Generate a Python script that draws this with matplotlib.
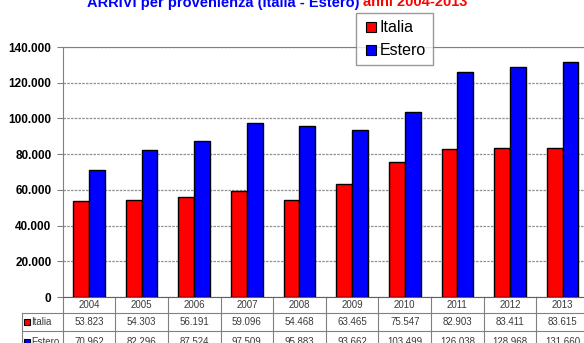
import matplotlib
matplotlib.use("Agg")
import matplotlib.pyplot as plt
from matplotlib.lines import Line2D
from matplotlib.patches import Rectangle
from matplotlib.ticker import FuncFormatter

plt.rcParams['font.family'] = ['Liberation Sans', 'DejaVu Sans']

# ---------------------------- Data ------------------------------------
years = ['2004', '2005', '2006', '2007', '2008', '2009', '2010', '2011', '2012', '2013']
italia = [53823, 54303, 56191, 59096, 54468, 63465, 75547, 82903, 83411, 83615]
estero = [70962, 82296, 87524, 97509, 95883, 93662, 103499, 126038, 128968, 131660]
series_names = ['Italia', 'Estero']
colors = ['#ff0000', '#0000ff']


def thousands(v, pos=None):
    return '{:,.0f}'.format(v).replace(',', '.')


# ---------------------------- Figure ----------------------------------
W, H = 584, 343
fig = plt.figure(figsize=(W / 100, H / 100), dpi=100)
ax_l, ax_r, ax_t, ax_b = 62.6, 589.0, 47.0, 297.0
ax = fig.add_axes([ax_l / W, 1 - ax_b / H, (ax_r - ax_l) / W, (ax_b - ax_t) / H])

x = list(range(len(years)))
bw = 0.3
ax.bar([i - bw / 2 for i in x], italia, bw, color=colors[0], edgecolor='black',
       linewidth=1, label=series_names[0], zorder=3)
ax.bar([i + bw / 2 for i in x], estero, bw, color=colors[1], edgecolor='black',
       linewidth=1, label=series_names[1], zorder=3)

ax.set_xlim(-0.5, len(years) - 0.5)
ax.set_ylim(0, 140000)
ax.set_yticks(range(0, 140001, 20000))
ax.yaxis.set_major_formatter(FuncFormatter(thousands))
ax.set_xticks([])
ax.tick_params(axis='y', direction='out', length=4, color='#808080',
               labelsize=8.5, pad=4)
for lab in ax.get_yticklabels():
    lab.set_fontweight('bold')
ax.yaxis.grid(True, linestyle=(0, (2, 1)), color='#909090', linewidth=0.9, zorder=0)
for s in ['top', 'left', 'right', 'bottom']:
    ax.spines[s].set_color('#808080')
ax.spines['bottom'].set_color('#606060')

# ---------------------------- Title (cut at top edge) -------------------
fig.text(87 / W, 1 - 6.5 / H, 'ARRIVI per provenienza (Italia - Estero)', color='#0000ff',
         fontsize=10.5, fontweight='bold', va='baseline', ha='left')
fig.text(363 / W, 1 - 6.5 / H, 'anni 2004-2013', color='#ff0000',
         fontsize=10.5, fontweight='bold', va='baseline', ha='left')

# ---------------------------- Legend ----------------------------------
handles = [Line2D([], [], linestyle='none', marker='s', markersize=6.5,
                  markerfacecolor=c, markeredgecolor='black', markeredgewidth=0.8)
           for c in colors]
leg = ax.legend(handles, series_names, loc='upper left',
                bbox_to_anchor=(356 / W, 1 - 13 / H),
                bbox_transform=fig.transFigure, fontsize=11.5, frameon=True,
                fancybox=False, handlelength=0.95, handletextpad=0.1,
                borderpad=0.45, labelspacing=0.5, borderaxespad=0)
leg.get_frame().set_edgecolor('#808080')
leg.get_frame().set_linewidth(1)
leg.set_zorder(10)

# ---------------------------- Data table -------------------------------
tr = ax.get_xaxis_transform()
ah = ax_b - ax_t
rows_px = [0, 16, 34, 56]
ry = [-r / ah for r in rows_px]
left_x = -0.5 - (ax_l - 22) / (ax_r - ax_l) * len(years)
lc = '#808080'
for k in range(len(years) + 1):
    ax.plot([k - 0.5, k - 0.5], [ry[0], ry[3]], transform=tr, color=lc,
            linewidth=0.8, clip_on=False)
ax.plot([left_x, left_x], [ry[1], ry[3]], transform=tr, color=lc, linewidth=0.8, clip_on=False)
for yy in ry[1:3]:
    ax.plot([left_x, len(years) - 0.5], [yy, yy], transform=tr, color=lc,
            linewidth=0.8, clip_on=False)

tc = '#3a3a3a'
for i, yr in enumerate(years):
    ax.text(i, (ry[0] + ry[1]) / 2, yr, transform=tr, ha='center', va='center',
            fontsize=7, color=tc, clip_on=False)
for r, vals in enumerate([italia, estero]):
    yc = (ry[r + 1] + ry[r + 2]) / 2
    for i, v in enumerate(vals):
        ax.text(i, yc, thousands(v), transform=tr, ha='center', va='center',
                fontsize=7, color=tc, clip_on=False)
    # legend key + label in first column
    kx = 24 / W
    fy = 1 - (297 + (rows_px[r + 1] + rows_px[r + 2]) / 2) / H
    fig.patches.append(Rectangle((kx, fy - 3 / H), 6 / W, 6 / H, transform=fig.transFigure,
                                 facecolor=colors[r], edgecolor='black', linewidth=0.8))
    fig.text(31 / W, fy, series_names[r], fontsize=7, color=tc, va='center', ha='left')

fig.savefig('out.png', dpi=100)
